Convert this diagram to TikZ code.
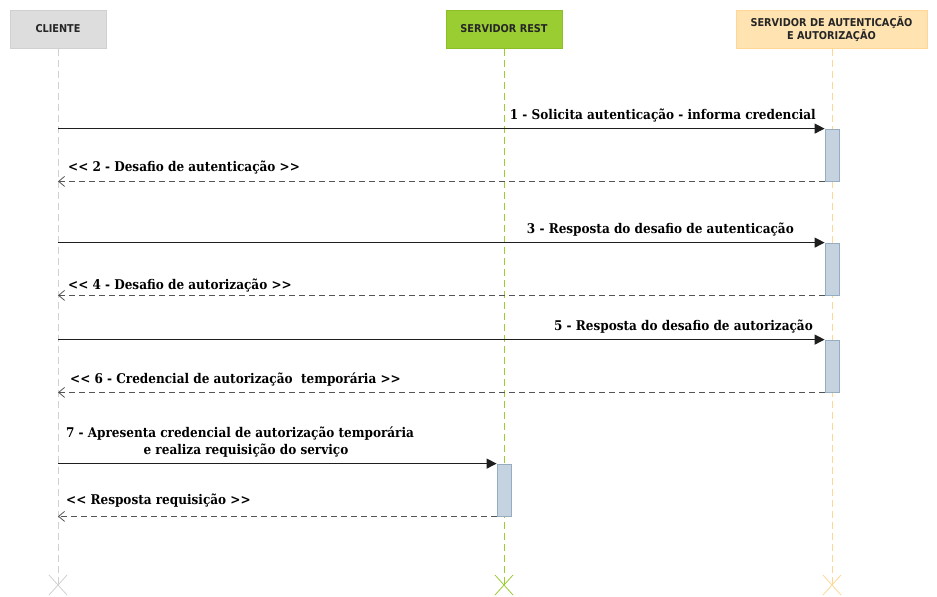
\documentclass[tikz,border=0pt]{standalone}
\usepackage{fontspec}
\setmainfont{DejaVu Serif Condensed}
\newfontfamily\boxfont{DejaVu Sans Condensed}
\usetikzlibrary{arrows.meta}
\newcommand\ltlt{<\kern0pt<}
\newcommand\gtgt{>\kern0pt>}
\definecolor{cligray}{RGB}{221,221,221}
\definecolor{cliline}{RGB}{208,208,208}
\definecolor{restgreen}{RGB}{154,205,50}
\definecolor{restline}{RGB}{140,190,40}
\definecolor{authfill}{RGB}{255,228,178}
\definecolor{authline}{RGB}{255,214,150}
\definecolor{barfill}{RGB}{196,211,223}
\definecolor{barline}{RGB}{150,172,192}
\definecolor{msggray}{RGB}{30,30,30}
\definecolor{retgray}{RGB}{85,85,85}
\begin{document}
\begin{tikzpicture}[x=1pt,y=-1pt,
  headbox/.style={draw=#1, line width=1pt, minimum height=38pt, inner sep=0pt,
    font=\boxfont\bfseries\fontsize{10.8}{11.5}\selectfont, text=black!85, align=center},
  lifeline/.style={draw=#1, line width=1pt, dash pattern=on 7pt off 4pt},
  endx/.style={draw=#1, line width=0.8pt},
  bar/.style={draw=barline, fill=barfill, line width=0.8pt, minimum width=14pt, minimum height=52pt, inner sep=0pt},
  msg/.style={draw=msggray, line width=1.1pt, -{Triangle[length=10pt,width=10pt]}},
  ret/.style={draw=retgray, line width=1.1pt, dash pattern=on 6pt off 4pt, -{Straight Barb[length=6pt,width=10pt,line width=0.8pt]}},
  lbl/.style={font=\bfseries\fontsize{13.4}{15}\selectfont, inner sep=0pt, text=black}]
\useasboundingbox (0,0) rectangle (937,597);

% heads
\node[headbox=cliline, fill=cligray, minimum width=96pt] (cl) at (58,29) {CLIENTE};
\node[headbox=restline, fill=restgreen, minimum width=116pt] (rs) at (504,29) {SERVIDOR REST};
\node[headbox=authline, fill=authfill, minimum width=191pt] (au) at (831.5,29) {SERVIDOR DE AUTENTICAÇÃO\\[-1pt]E AUTORIZAÇÃO};

% lifeline ends
\coordinate (clend) at (58,585);
\coordinate (rsend) at (504,585);
\coordinate (auend) at (832,585);
\draw[lifeline=cliline] (cl.south) -- (clend);
\draw[lifeline=restgreen] (rs.south) -- (rsend);
\draw[lifeline=authline] (au.south -| auend) -- (auend);
\draw[endx=cliline] ([shift={(-9,-10)}]clend) -- ([shift={(9,10)}]clend) ([shift={(9,-10)}]clend) -- ([shift={(-9,10)}]clend);
\draw[endx=restgreen] ([shift={(-9,-10)}]rsend) -- ([shift={(9,10)}]rsend) ([shift={(9,-10)}]rsend) -- ([shift={(-9,10)}]rsend);
\draw[endx=authline] ([shift={(-9,-10)}]auend) -- ([shift={(9,10)}]auend) ([shift={(9,-10)}]auend) -- ([shift={(-9,10)}]auend);

% activation bars
\node[bar] (b1) at (832,155) {};
\node[bar] (b2) at (832,269) {};
\node[bar] (b3) at (832,366) {};
\node[bar] (b4) at (504,490) {};

% messages
\draw[msg] (cl.south |- b1.north) -- (b1.north west);
\draw[ret] (b1.south west) -- (cl.south |- b1.south);
\draw[msg] (cl.south |- b2.north) -- (b2.north west);
\draw[ret] (b2.south west) -- (cl.south |- b2.south);
\draw[msg] (cl.south |- b3.north) -- (b3.north west);
\draw[ret] (b3.south west) -- (cl.south |- b3.south);
\draw[msg] (cl.south |- b4.north) -- (b4.north west);
\draw[ret] (b4.south west) -- (cl.south |- b4.south);

% labels
\node[lbl, anchor=base east] (l1) at (816,119) {1 - Solicita autenticação - informa credencial};
\node[lbl, anchor=base west] (l2) at (68,171.5) {\ltlt{} 2 - Desafio de autenticação \gtgt};
\node[lbl, anchor=base east] (l3) at (794,233) {3 - Resposta do desafio de autenticação};
\node[lbl, anchor=base west] (l4) at (68,289.5) {\ltlt{} 4 - Desafio de autorização \gtgt};
\node[lbl, anchor=base east] (l5) at (813,330) {5 - Resposta do desafio de autorização};
\node[lbl, anchor=base west] (l6) at (70,383.5) {\ltlt{} 6 - Credencial de autorização\ \ temporária \gtgt};
\node[lbl, anchor=base] (l7a) at (240,437.5) {7 - Apresenta credencial de autorização temporária};
\node[lbl, anchor=base] (l7b) at (246,454.5) {e realiza requisição do serviço};
\node[lbl, anchor=base west] (l8) at (66,504.5) {\ltlt{} Resposta requisição \gtgt};
\end{tikzpicture}
\end{document}
